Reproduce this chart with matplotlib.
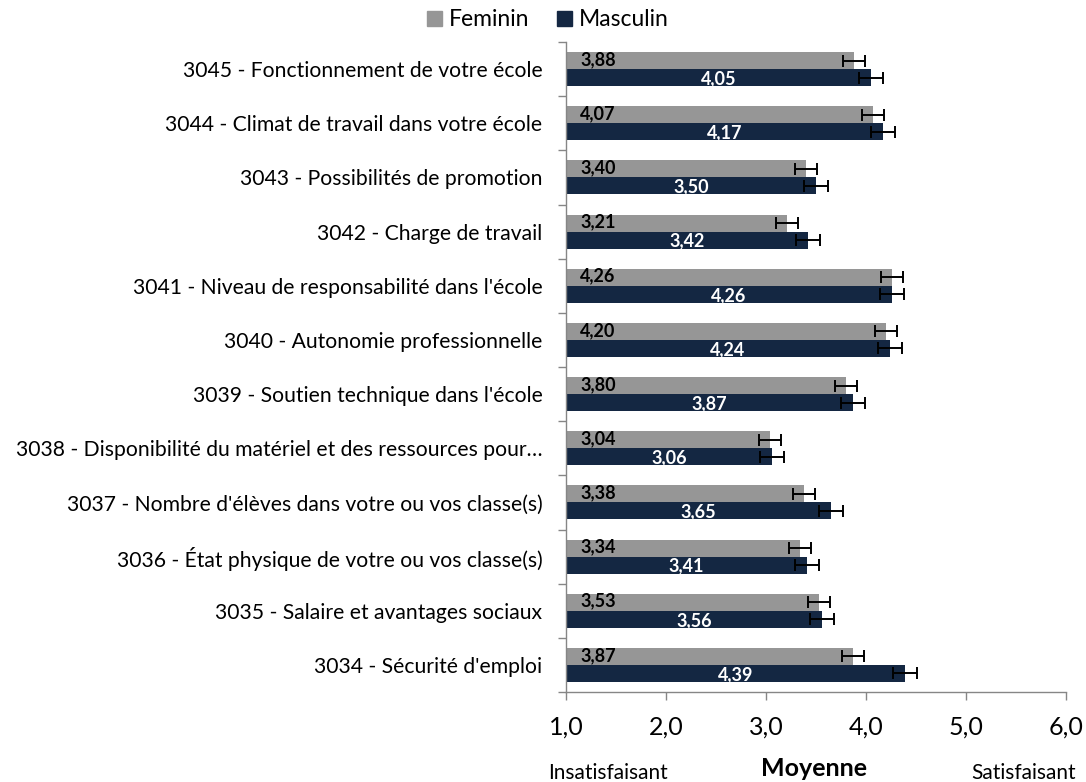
import matplotlib
matplotlib.use("Agg")
import matplotlib.pyplot as plt
import numpy as np
from matplotlib.patches import Patch

plt.rcParams['font.family'] = ['Lato', 'DejaVu Sans']

categories = [
    "3045 - Fonctionnement de votre école",
    "3044 - Climat de travail dans votre école",
    "3043 - Possibilités de promotion",
    "3042 - Charge de travail",
    "3041 - Niveau de responsabilité dans l'école",
    "3040 - Autonomie professionnelle",
    "3039 - Soutien technique dans l'école",
    "3038 - Disponibilité du matériel et des ressources pour…",
    "3037 - Nombre d'élèves dans votre ou vos classe(s)",
    "3036 - État physique de votre ou vos classe(s)",
    "3035 - Salaire et avantages sociaux",
    "3034 - Sécurité d'emploi",
]
feminin = [3.88, 4.07, 3.40, 3.21, 4.26, 4.20, 3.80, 3.04, 3.38, 3.34, 3.53, 3.87]
masculin = [4.05, 4.17, 3.50, 3.42, 4.26, 4.24, 3.87, 3.06, 3.65, 3.41, 3.56, 4.39]
err_feminin = [0.11] * 12
err_masculin = [0.12] * 12
xticks = [1.0, 2.0, 3.0, 4.0, 5.0, 6.0]

GRAY = "#969696"
NAVY = "#142742"

fig = plt.figure(figsize=(10.86, 7.82), dpi=100)
ax = fig.add_axes([566/1086, 1 - 692/782, 500/1086, 650/782])

n = len(categories)
y = np.arange(n)
h = 17/54
base = 1.0
fw = [v - base for v in feminin]
mw = [v - base for v in masculin]
ekw = dict(ecolor='black', elinewidth=1.4, capsize=4.5, capthick=1.4)
ax.barh(y - h/2, fw, height=h, left=base, color=GRAY, zorder=2, xerr=err_feminin, error_kw=ekw)
ax.barh(y + h/2, mw, height=h, left=base, color=NAVY, zorder=2, xerr=err_masculin, error_kw=ekw)

fmt = lambda v: f"{v:.2f}".replace('.', ',')
for i in range(n):
    ax.text(base + 0.14, y[i] - h/2 - 0.02, fmt(feminin[i]), ha='left', va='center',
            fontsize=13, fontweight='bold', color='black', zorder=3)
    ax.text((base + masculin[i]) / 2, y[i] + h/2 + 0.02, fmt(masculin[i]), ha='center', va='center',
            fontsize=13, fontweight='bold', color='white', zorder=3)

ax.set_xlim(1.0, 6.0)
ax.set_ylim(n - 0.5, -0.5)
ax.set_xticks(xticks)
ax.set_xticklabels([f"{t:.1f}".replace('.', ',') for t in xticks], fontsize=18)
ax.set_yticks(y)
ax.set_yticklabels(categories, fontsize=15.2)
ax.tick_params(axis='y', length=0, pad=17)
ax.set_yticks(np.arange(n + 1) - 0.5, minor=True)
ax.tick_params(axis='y', which='minor', length=6, color='#868686', width=1)
ax.tick_params(axis='x', length=6, color='#868686', width=1, pad=11)
for s in ['top', 'right']:
    ax.spines[s].set_visible(False)
for s in ['left', 'bottom']:
    ax.spines[s].set_color('#868686')
    ax.spines[s].set_linewidth(1)

fig.text(814/1086, 1 - 768/782, "Moyenne", ha='center', va='center', fontsize=18, fontweight='bold')
fig.text(608/1086, 1 - 773/782, "Insatisfaisant", ha='center', va='center', fontsize=15)
fig.text(1024/1086, 1 - 773/782, "Satisfaisant", ha='center', va='center', fontsize=15)

handles = [Patch(color=GRAY, label='Feminin'), Patch(color=NAVY, label='Masculin')]
fig.legend(handles=handles, loc='center', bbox_to_anchor=(548/1086, 1 - 20/782), ncol=2,
           frameon=False, fontsize=16.5, handlelength=0.65, handleheight=0.65,
           handletextpad=0.3, columnspacing=1.2, borderpad=0)

fig.savefig("out.png", dpi=100)
